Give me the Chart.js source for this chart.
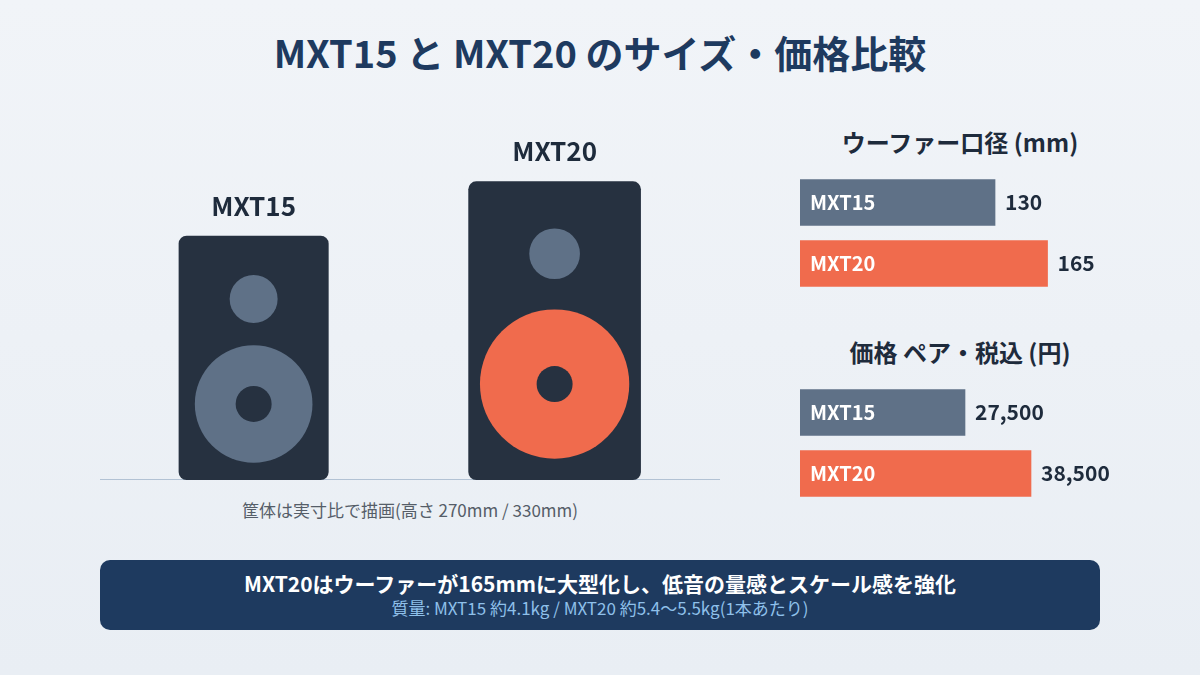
<!DOCTYPE html>
<html><head><meta charset="utf-8">
<script src="https://cdn.jsdelivr.net/npm/chart.js@4.4.0/dist/chart.umd.min.js"></script>
<style>
html,body{margin:0;padding:0;}
body{width:1200px;height:675px;position:relative;overflow:hidden;background:linear-gradient(180deg,#f1f4f8,#e9eef4);font-family:"Noto Sans CJK JP","Noto Sans",sans-serif;}
.abs{position:absolute;}
#title{left:0;width:1200px;top:24px;text-align:center;font-size:38px;font-weight:700;color:#1e3a5f;}
.sub{font-size:24px;font-weight:700;color:#1e2b3c;text-align:center;width:320px;left:800px;}
#cap{left:100px;width:620px;top:497px;text-align:center;font-size:17px;color:#555d68;}
#banner{left:100px;top:560px;width:1000px;height:70px;background:#1e3a5f;border-radius:10px;text-align:center;}
#b1{color:#fff;font-weight:700;font-size:21px;padding-top:10px;line-height:26px;height:26px;}
#b2{color:#8fc0ea;font-size:17px;line-height:24px;height:24px;}
</style></head><body>
<div id="title" class="abs">MXT15 と MXT20 のサイズ・価格比較</div>
<div class="abs" style="left:100px;top:118px;width:620px;height:362px"><canvas id="spk"></canvas></div>
<div id="cap" class="abs">筐体は実寸比で描画(高さ 270mm / 330mm)</div>
<div class="abs sub" style="top:124px">ウーファー口径 (mm)</div>
<div class="abs" style="left:800px;top:172px;width:320px;height:122px"><canvas id="c1"></canvas></div>
<div class="abs sub" style="top:334px">価格 ペア・税込 (円)</div>
<div class="abs" style="left:800px;top:382px;width:320px;height:122px"><canvas id="c2"></canvas></div>
<div id="banner" class="abs"><div id="b1">MXT20はウーファーが165mmに大型化し、低音の量感とスケール感を強化</div><div id="b2">質量: MXT15 約4.1kg / MXT20 約5.4〜5.5kg(1本あたり)</div></div>
<script>
const models=["MXT15","MXT20"];
const heightMM=[270,330];
const widthMM=[166,191];
const centerMM=[170,503];
const wooferMM=[130,165];
const wooferYMM=[84,106];
const tweeterMM=[53,56];
const tweeterYMM=[200,250];
const priceYen=[27500,38500];
const colGrey="#5f7187",colOrange="#f06b4d",colCab="#263140";
const font='"Noto Sans CJK JP","Noto Sans",sans-serif';

const speakerPlugin={id:"spk",afterDraw(c){
 const x=c.scales.x,y=c.scales.y,ctx=c.ctx;
 const u=Math.abs(y.getPixelForValue(1)-y.getPixelForValue(0));
 ctx.save();
 ctx.strokeStyle="#9fb3c8";ctx.lineWidth=1.5;ctx.beginPath();ctx.moveTo(x.left,y.getPixelForValue(0));ctx.lineTo(x.right,y.getPixelForValue(0));ctx.stroke();
 models.forEach((m,i)=>{
  const l=x.getPixelForValue(centerMM[i]-widthMM[i]/2),r=x.getPixelForValue(centerMM[i]+widthMM[i]/2);
  const t=y.getPixelForValue(heightMM[i]),b=y.getPixelForValue(0);
  ctx.fillStyle=colCab;ctx.beginPath();ctx.roundRect(l,t,r-l,b-t,8);ctx.fill();
  const cx=x.getPixelForValue(centerMM[i]);
  ctx.fillStyle=colGrey;ctx.beginPath();ctx.arc(cx,y.getPixelForValue(tweeterYMM[i]),tweeterMM[i]*u/2,0,7);ctx.fill();
  ctx.fillStyle=i?colOrange:colGrey;ctx.beginPath();ctx.arc(cx,y.getPixelForValue(wooferYMM[i]),wooferMM[i]*u/2,0,7);ctx.fill();
  ctx.fillStyle=colCab;ctx.beginPath();ctx.arc(cx,y.getPixelForValue(wooferYMM[i]),18,0,7);ctx.fill();
  ctx.fillStyle="#1e2b3c";ctx.font="bold 26px "+font;ctx.textAlign="center";ctx.textBaseline="middle";
  ctx.fillText(m,cx,t-30);
 });
 ctx.restore();
}};
new Chart(document.getElementById("spk"),{type:"scatter",data:{datasets:[{data:[]}]},
 options:{responsive:true,maintainAspectRatio:false,animation:false,layout:{padding:0},
 plugins:{legend:{display:false},tooltip:{enabled:false}},
 scales:{x:{type:"linear",min:0,max:686,display:false},y:{type:"linear",min:0,max:400,display:false}}},
 plugins:[speakerPlugin]});

function labelPlugin(fmt){return{id:"lbl",afterDatasetsDraw(c){
 const ctx=c.ctx,meta=c.getDatasetMeta(0);ctx.save();ctx.textBaseline="middle";
 meta.data.forEach((bar,i)=>{
  ctx.font="bold 20px "+font;ctx.fillStyle="#fff";ctx.textAlign="left";ctx.fillText(models[i],bar.base+10,bar.y);
  ctx.font="bold 21px "+font;ctx.fillStyle="#1e2b3c";ctx.fillText(fmt(c.data.datasets[0].data[i]),bar.x+10,bar.y);
 });ctx.restore();}};}
function hbar(id,vals,max,fmt){
 new Chart(document.getElementById(id),{type:"bar",
  data:{labels:models,datasets:[{data:vals,backgroundColor:[colGrey,colOrange],barThickness:46,borderWidth:0}]},
  options:{indexAxis:"y",responsive:true,maintainAspectRatio:false,animation:false,layout:{padding:0},
  plugins:{legend:{display:false},tooltip:{enabled:false}},
  scales:{x:{min:0,max:max,display:false},y:{display:false}}},
  plugins:[labelPlugin(fmt)]});
}
hbar("c1",wooferMM,213.3,v=>String(v));
hbar("c2",priceYen,53333,v=>v.toLocaleString("en-US"));
</script></body></html>
